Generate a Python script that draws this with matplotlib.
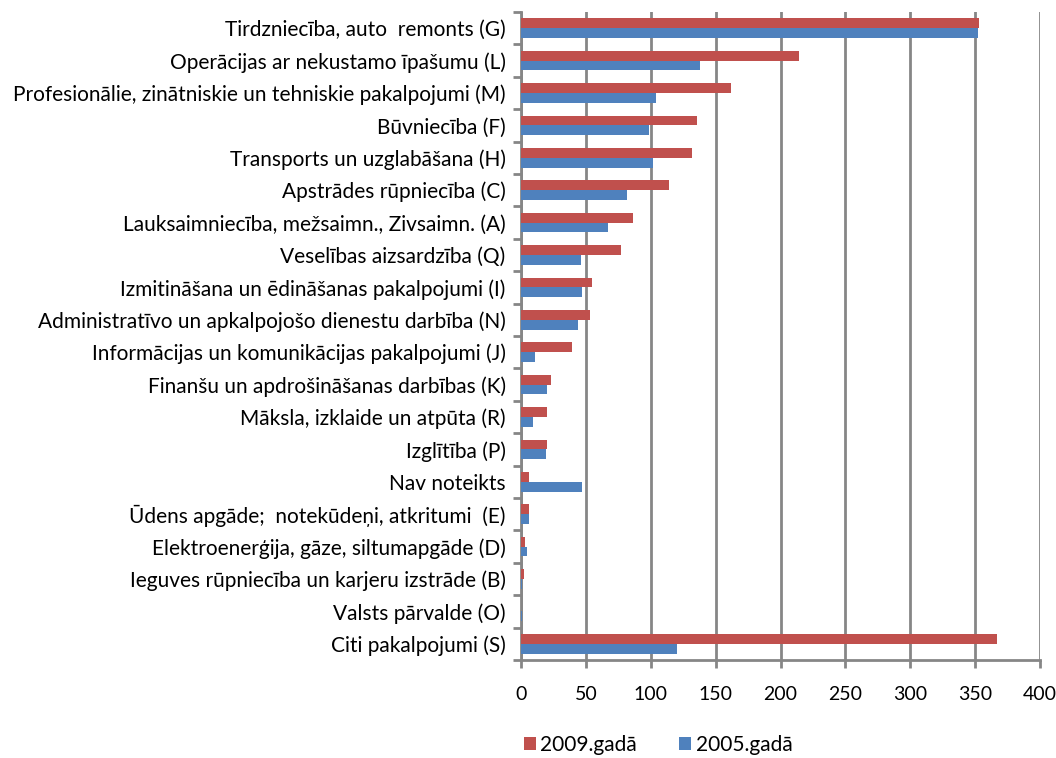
import numpy as np
import matplotlib.pyplot as plt

plt.rcParams['font.family'] = ['Lato', 'DejaVu Sans']

categories = [
    "Tirdzniecība, auto  remonts (G)",
    "Operācijas ar nekustamo īpašumu (L)",
    "Profesionālie, zinātniskie un tehniskie pakalpojumi (M)",
    "Būvniecība (F)",
    "Transports un uzglabāšana (H)",
    "Apstrādes rūpniecība (C)",
    "Lauksaimniecība, mežsaimn., Zivsaimn. (A)",
    "Veselības aizsardzība (Q)",
    "Izmitināšana un ēdināšanas pakalpojumi (I)",
    "Administratīvo un apkalpojošo dienestu darbība (N)",
    "Informācijas un komunikācijas pakalpojumi (J)",
    "Finanšu un apdrošināšanas darbības (K)",
    "Māksla, izklaide un atpūta (R)",
    "Izglītība (P)",
    "Nav noteikts",
    "Ūdens apgāde;  notekūdeņi, atkritumi  (E)",
    "Elektroenerģija, gāze, siltumapgāde (D)",
    "Ieguves rūpniecība un karjeru izstrāde (B)",
    "Valsts pārvalde (O)",
    "Citi pakalpojumi (S)",
]
values_2009 = [353, 214, 162, 136, 132, 114, 86, 77, 55, 53, 39, 23, 20, 20,
               6, 6, 3, 2, 0, 367]
values_2005 = [352, 138, 104, 99, 102, 82, 67, 46, 47, 44, 11, 20, 9, 19,
               47, 6, 5, 1, 1, 120]
series_labels = ["2009.gadā", "2005.gadā"]

red = "#C0504D"
blue = "#4F81BD"
grey = "#868686"

fig = plt.figure(figsize=(10.56, 7.58), dpi=100)
ax = fig.add_axes([521/1056, 1 - 660/758, 519/1056, 648/758])

y = np.arange(len(categories))
h = 0.3
ax.barh(y - h/2, values_2009, height=h, color=red, label=series_labels[0], zorder=3)
ax.barh(y + h/2, values_2005, height=h, color=blue, label=series_labels[1], zorder=3)

ax.set_xlim(0, 400)
ax.set_ylim(len(categories) - 0.5, -0.5)
ax.set_xticks(range(0, 401, 50))
ax.set_yticks(y)
ax.set_yticklabels(categories, fontsize=15)
ax.set_yticks(np.arange(-0.5, len(categories), 1), minor=True)
ax.tick_params(axis='y', which='major', length=0, pad=11)
ax.tick_params(axis='y', which='minor', length=6, width=2, color=grey, direction='out')
ax.tick_params(axis='x', length=6, width=2, color=grey, pad=13, labelsize=14)

ax.grid(axis='x', color=grey, linewidth=2, zorder=0)
for s in ['top', 'right']:
    ax.spines[s].set_visible(False)
for s in ['left', 'bottom']:
    ax.spines[s].set_color(grey)
    ax.spines[s].set_linewidth(2)

fig.legend(loc='center', bbox_to_anchor=(658/1056, 1 - 745/758), ncol=2,
           frameon=False, fontsize=15, handlelength=0.6, handleheight=0.6,
           handletextpad=0.2, columnspacing=2.0)

fig.savefig('out.png', dpi=100)
